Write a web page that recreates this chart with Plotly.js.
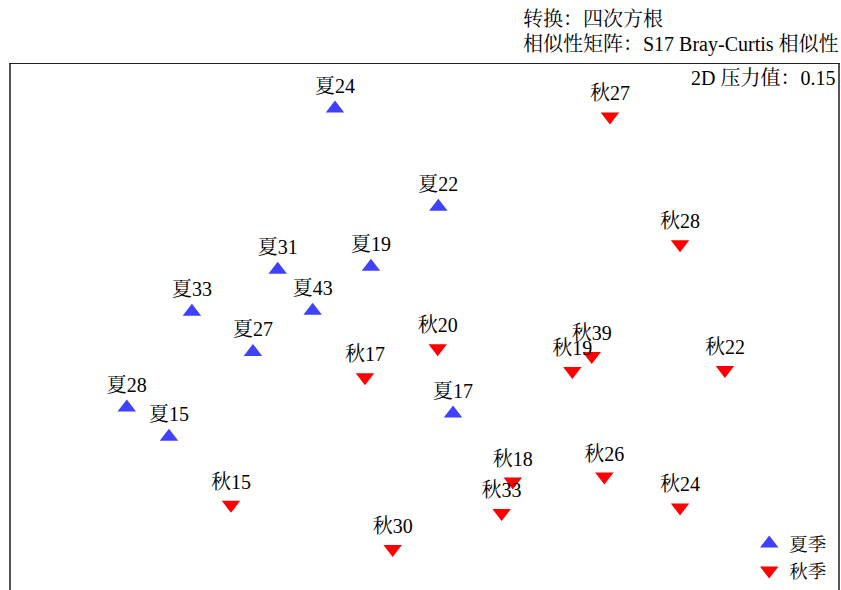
<!DOCTYPE html>
<html>
<head>
<meta charset="utf-8">
<script src="https://cdn.plot.ly/plotly-3.0.1.min.js"></script>
<style>
  html, body { margin: 0; padding: 0; background: #fff; }
  #chart { width: 841px; height: 590px; }
</style>
</head>
<body>
<div id="chart"></div>
<script>
// NMDS ordination (4th-root transform, Bray-Curtis similarity)
const summerLabels = ["夏24", "夏22", "夏19", "夏31", "夏43", "夏33", "夏27", "夏28", "夏15", "夏17"];
const summerX = [-0.433, 0.067, -0.259, -0.710, -0.541, -1.125, -0.830, -1.440, -1.236, 0.138];
const summerY = [1.080, 0.594, 0.298, 0.283, 0.080, 0.075, -0.123, -0.398, -0.543, -0.428];

const autumnLabels = ["秋27", "秋28", "秋20", "秋17", "秋39", "秋19", "秋22", "秋18", "秋26", "秋33", "秋24", "秋15", "秋30"];
const autumnX = [0.897, 1.236, 0.064, -0.288, 0.809, 0.715, 1.453, 0.427, 0.870, 0.373, 1.236, -0.936, -0.154];
const autumnY = [1.041, 0.409, -0.105, -0.248, -0.143, -0.217, -0.212, -0.764, -0.739, -0.920, -0.892, -0.879, -1.097];

const groupNames = ["夏季", "秋季"];
const headerLines = ["转换：四次方根", "相似性矩阵：S17 Bray-Curtis 相似性"];
const stressText = "2D 压力值：0.15";

const FONT = "'Liberation Serif', 'Times New Roman', 'Noto Serif CJK SC', 'Noto Sans CJK SC', serif";
const FS = 20;

const traces = [
  {
    type: "scatter",
    mode: "markers+text",
    name: groupNames[0],
    x: summerX, y: summerY, text: summerLabels,
    textposition: "top center",
    textfont: { family: FONT, size: FS, color: "#000" },
    marker: { symbol: "triangle-up", size: 16, color: "rgb(64,64,255)", line: { width: 0 } },
    hoverinfo: "text"
  },
  {
    type: "scatter",
    mode: "markers+text",
    name: groupNames[1],
    x: autumnX, y: autumnY, text: autumnLabels,
    textposition: "top center",
    textfont: { family: FONT, size: FS, color: "#000" },
    marker: { symbol: "triangle-down", size: 16, color: "rgb(255,0,0)", line: { width: 0 } },
    hoverinfo: "text"
  }
];

// header block: left-aligned lines ending at the right edge of the frame
const headerX = 0.6167;

const layout = {
  width: 841,
  height: 590,
  margin: { l: 11, r: 3, t: 64, b: 0 },
  paper_bgcolor: "#fff",
  plot_bgcolor: "#fff",
  font: { family: FONT, size: FS, color: "#000" },
  xaxis: {
    range: [-2, 2], side: "top",
    showline: true, linecolor: "#222", linewidth: 1.5,
    showgrid: false, zeroline: false, showticklabels: false, ticks: ""
  },
  yaxis: {
    range: [-1.3, 1.3],
    showline: true, mirror: true, linecolor: "#555", linewidth: 2,
    showgrid: false, zeroline: false, showticklabels: false, ticks: ""
  },
  showlegend: true,
  legend: {
    x: 0.993, xanchor: "right", y: 0.0, yanchor: "bottom",
    bgcolor: "rgba(0,0,0,0)",
    font: { family: FONT, size: 18.5, color: "#000" },
    itemsizing: "trace",
    tracegroupgap: 0
  },
  annotations: [
    { xref: "paper", yref: "paper", x: headerX, y: 1, yshift: 45, xanchor: "left", yanchor: "middle",
      text: headerLines[0], showarrow: false, font: { family: FONT, size: FS, color: "#000" } },
    { xref: "paper", yref: "paper", x: headerX, y: 1, yshift: 20, xanchor: "left", yanchor: "middle",
      text: headerLines[1], showarrow: false, font: { family: FONT, size: FS, color: "#000" } },
    { xref: "paper", yref: "paper", x: 1.0, y: 1, xshift: -1, yshift: -14, xanchor: "right", yanchor: "middle",
      text: stressText, showarrow: false, font: { family: FONT, size: FS, color: "#000" } }
  ]
};

Plotly.newPlot("chart", traces, layout, { displayModeBar: false, staticPlot: true });
</script>
</body>
</html>
